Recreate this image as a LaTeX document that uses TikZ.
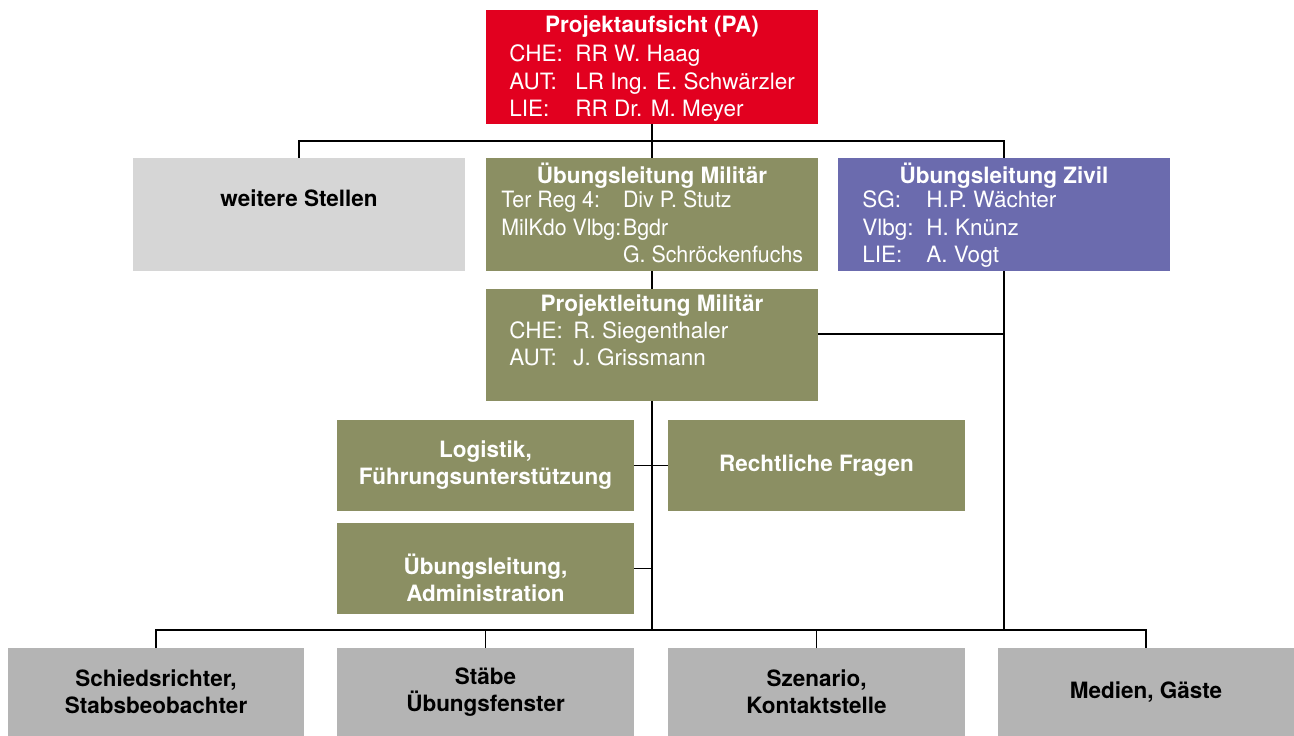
\documentclass[tikz,border=0pt]{standalone}
\usepackage{fontspec}
\setmainfont{TeX Gyre Heros}
\newfontfamily\narrowfont{TeX Gyre Heros}[FakeStretch=0.95]
\usetikzlibrary{positioning}
\definecolor{paRed}{HTML}{E2001F}
\definecolor{milOlive}{HTML}{8B8F63}
\definecolor{zivPurple}{HTML}{6B6BAE}
\definecolor{lightGrey}{HTML}{D6D6D6}
\definecolor{midGrey}{HTML}{B4B4B4}
\newcommand{\boxfont}{\fontsize{12.8}{15.4}\selectfont}

\begin{document}
\begin{tikzpicture}[x=0.02cm,y=-0.02cm,
  box/.style={rectangle,inner sep=0pt,outer sep=0pt,minimum width=6.64cm,minimum height=2.28cm},
  sbox/.style={box,minimum width=5.94cm,minimum height=1.82cm},
  btitle/.style={font=\boxfont\bfseries,text=white,anchor=base,inner sep=0pt},
  body/.style={font=\boxfont,text=white,anchor=base west,inner sep=0pt},
  conn/.style={draw=black,line width=0.8pt}]
\useasboundingbox (0,0) rectangle (1294,736);

% top
\node[box,fill=paRed] (pa) at (652,67) {};
\node[btitle] (pa-t) at (652,33) {Projektaufsicht (PA)};
\node[body] (pa-b) at (509,62) {\begin{tabular}[t]{@{}p{1.32cm}@{}l@{}}CHE: & RR W. Haag\\ AUT: & LR Ing. E. Schwärzler\\ LIE: & RR Dr. M. Meyer\end{tabular}};

% second row
\node[box,fill=lightGrey] (we) at (299,214.5) {};
\node[btitle,text=black] (we-t) at (299,207) {weitere Stellen};
\node[box,fill=milOlive] (mil) at (652,214.5) {};
\node[btitle] (mil-t) at (652,184) {Übungsleitung Militär};
\node[body,font=\boxfont\narrowfont] (mil-b) at (501,208) {\begin{tabular}[t]{@{}l@{\hspace{1pt}}l@{}}Ter Reg 4: & Div P. Stutz\\ MilKdo Vlbg: & Bgdr\\ & G. Schröckenfuchs\end{tabular}};
\node[box,fill=zivPurple] (ziv) at (1004,214.5) {};
\node[btitle] (ziv-t) at (1004,184) {Übungsleitung Zivil};
\node[body] (ziv-b) at (862,208) {\begin{tabular}[t]{@{}p{1.28cm}@{}l@{}}SG: & H.P. Wächter\\ Vlbg: & H. Knünz\\ LIE: & A. Vogt\end{tabular}};

% projektleitung
\node[box,minimum height=2.24cm,fill=milOlive] (pl) at (652,345) {};
\node[btitle] (pl-t) at (652,312) {Projektleitung Militär};
\node[body] (pl-b) at (509,338) {\begin{tabular}[t]{@{}p{1.28cm}@{}l@{}}CHE: & R. Siegenthaler\\ AUT: & J. Grissmann\end{tabular}};

\node[sbox,fill=milOlive,text=white,font=\boxfont\bfseries,align=center] (log) at (485.5,465.5) {Logistik,\\Führungsunterstützung};
\node[sbox,fill=milOlive,text=white,font=\boxfont\bfseries] (recht) at (816.5,465.5) {Rechtliche Fragen};
\node[sbox,fill=milOlive] (adm) at (485.5,568.5) {};
\node[btitle,align=center,anchor=center] (adm-t) at (485.5,578) {Übungsleitung,\\Administration};

% bottom row
\foreach \x/\n/\t in {156/b1/{Schiedsrichter,\\Stabsbeobachter},485.5/b2/{Stäbe\\Übungsfenster},816.5/b3/{Szenario,\\Kontaktstelle},1146/b4/{Medien, Gäste}}
  \node[sbox,minimum height=1.76cm,fill=midGrey,font=\boxfont\bfseries,align=center] (\n) at (\x,692) {\t};

% connectors
\coordinate (bus-t) at (652,141);
\coordinate (bus-b) at (652,630);
\coordinate (pl-lvl) at (0,334);
\draw[conn] (pa.south) -- (mil.north);
\draw[conn] (we.north) |- (bus-t) -| (ziv.north);
\draw[conn] (mil.south) -- (pl.north);
\draw[conn] (pl.south) -- (bus-b);
\draw[conn] (pl.east |- pl-lvl) -- (ziv.south |- pl-lvl);
\draw[conn] (ziv.south) -- (ziv.south |- bus-b);
\draw[conn] (log.east) -- (recht.west);
\draw[conn] (adm.east) -- (adm.east -| bus-b);
\draw[conn] (b1.north) |- (bus-b) -| (b4.north);
\draw[conn] (b2.north) -- (b2.north |- bus-b);
\draw[conn] (b3.north) -- (b3.north |- bus-b);

\end{tikzpicture}
\end{document}
